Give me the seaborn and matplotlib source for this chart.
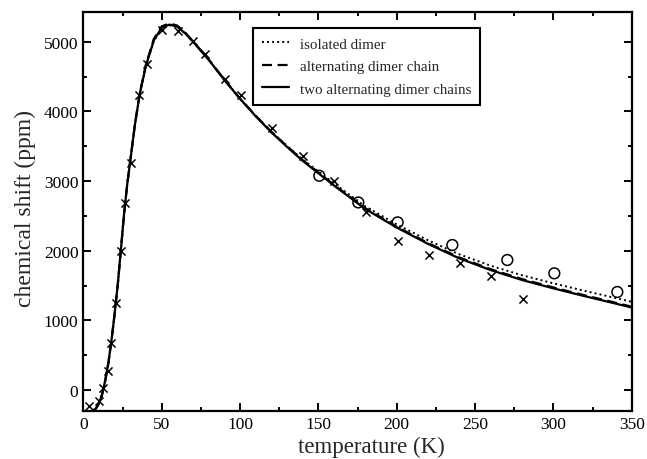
import numpy as np
import pandas as pd
import seaborn as sns
import matplotlib
matplotlib.use("Agg")
import matplotlib.pyplot as plt
from matplotlib.ticker import MultipleLocator

# model curves
T_curve = [6.5, 8, 10, 12, 14, 16, 18, 20, 22, 24, 26, 28, 30, 33, 36, 40, 45, 50, 55, 60,
           65, 70, 80, 90, 100, 110, 120, 130, 140, 160, 180, 200, 220, 240, 260, 280, 300,
           320, 340, 350]
two_chains = [-290, -265, -190, -60, 140, 390, 720, 1100, 1520, 2020, 2530, 2950, 3300, 3820,
              4250, 4660, 5020, 5200, 5245, 5215, 5120, 5000, 4740, 4450, 4180, 3930, 3700,
              3490, 3290, 2935, 2598, 2333, 2098, 1890, 1722, 1580, 1460, 1348, 1240, 1185]
alt_chain = [-290, -265, -190, -60, 140, 390, 720, 1100, 1520, 2020, 2530, 2950, 3300, 3825,
             4260, 4675, 5040, 5220, 5262, 5230, 5130, 5005, 4745, 4455, 4185, 3937, 3708,
             3498, 3300, 2945, 2610, 2345, 2110, 1903, 1735, 1593, 1473, 1360, 1252, 1197]
isolated = [-290, -265, -190, -60, 140, 390, 720, 1100, 1520, 2020, 2530, 2950, 3300, 3820,
            4245, 4650, 5010, 5190, 5235, 5210, 5118, 5000, 4742, 4455, 4188, 3935, 3710,
            3505, 3310, 2965, 2636, 2378, 2150, 1948, 1785, 1648, 1532, 1424, 1320, 1267]

# measured points
T_cross = [3.8, 10.2, 12.8, 15.5, 17.7, 20.7, 23.9, 26.4, 30.2, 35.7, 40.4, 50, 60.2, 70.2,
           77.7, 90.4, 100.4, 120.2, 140.3, 160.2, 180.4, 200.6, 220.6, 240.4, 260.2, 280.4]
shift_cross = [-234, -162, 29, 277, 683, 1246, 2000, 2685, 3266, 4231, 4676, 5162, 5148, 5004,
               4828, 4470, 4231, 3763, 3362, 2999, 2550, 2139, 1938, 1829, 1643, 1308]
T_circle = [150.6, 175.5, 200.6, 235.5, 270.6, 300.6, 340.8]
shift_circle = [3076, 2693, 2407, 2082, 1867, 1676, 1408]

labels = ["isolated dimer", "alternating dimer chain", "two alternating dimer chains"]

sns.set_style("ticks")
plt.rcParams['font.family'] = ['Liberation Serif', 'DejaVu Serif']

fig = plt.figure(figsize=(6.47, 4.6), dpi=100)
ax = fig.add_axes([0.1288, 0.1043, 0.8476, 0.8681])

sns.lineplot(x=T_curve, y=isolated, ax=ax, color="black", lw=1.4,
             linestyle=(0, (1, 1.6)), label=labels[0])
sns.lineplot(x=T_curve, y=alt_chain, ax=ax, color="black", lw=1.6,
             linestyle=(0, (4.5, 2.5)), label=labels[1])
sns.lineplot(x=T_curve, y=two_chains, ax=ax, color="black", lw=1.6,
             linestyle="-", label=labels[2])

sns.scatterplot(x=T_cross, y=shift_cross, ax=ax, marker="x", color="black",
                s=34, linewidth=1.1, legend=False, zorder=3)
sns.scatterplot(x=T_circle, y=shift_circle, ax=ax, marker="o", facecolor="none",
                edgecolor="black", s=60, linewidth=1.1, legend=False, zorder=3)

ax.set_xlim(0, 350)
ax.set_ylim(-300, 5430)
ax.xaxis.set_major_locator(MultipleLocator(50))
ax.xaxis.set_minor_locator(MultipleLocator(25))
ax.yaxis.set_major_locator(MultipleLocator(1000))
ax.yaxis.set_minor_locator(MultipleLocator(500))
ax.tick_params(which="both", direction="in", top=True, right=True, width=1.4,
               labelsize=12.5, colors="black")
ax.tick_params(which="major", length=6)
ax.tick_params(which="minor", length=3)
for sp in ax.spines.values():
    sp.set_visible(True)
    sp.set_linewidth(1.6)
    sp.set_color("black")

ax.set_xlabel("temperature (K)", fontsize=16.5)
ax.set_ylabel("chemical shift (ppm)", fontsize=17)
ax.xaxis.set_label_coords(0.525, -0.062)
ax.yaxis.set_label_coords(-0.087, 0.51)

leg = ax.legend(loc="upper left", bbox_to_anchor=(0.309, 0.959), borderaxespad=0,
                fontsize=10.8, frameon=True, fancybox=False, handlelength=1.8,
                handletextpad=0.75, labelspacing=0.6, borderpad=0.6)
leg.get_frame().set_edgecolor("black")
leg.get_frame().set_linewidth(1.5)
leg.get_frame().set_alpha(1)

fig.savefig("out.png", dpi=100)
